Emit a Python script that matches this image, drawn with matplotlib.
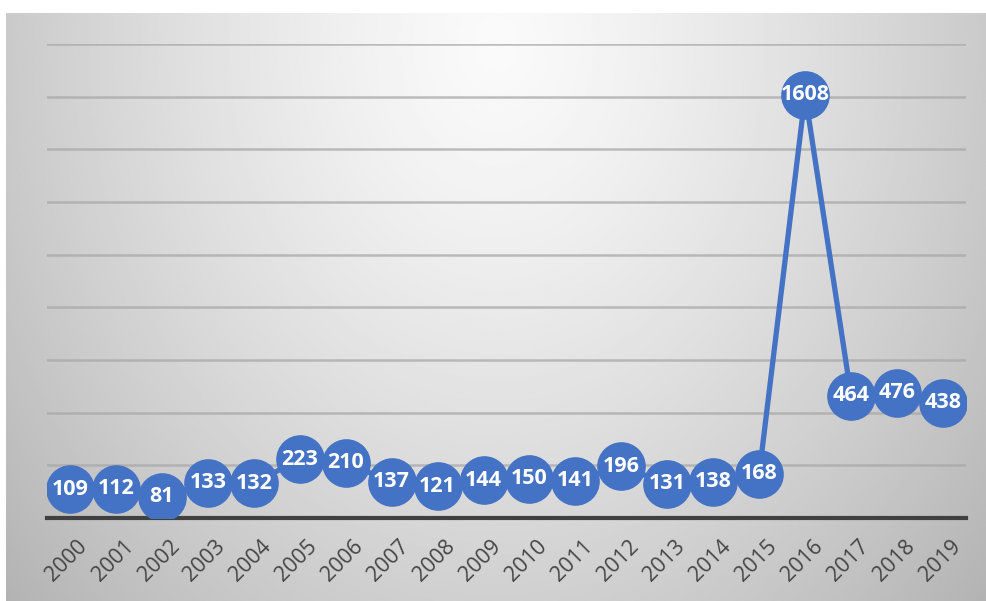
import matplotlib.pyplot as plt
import matplotlib.transforms as mtransforms
import numpy as np

years = ['2000', '2001', '2002', '2003', '2004', '2005', '2006', '2007', '2008', '2009',
         '2010', '2011', '2012', '2013', '2014', '2015', '2016', '2017', '2018', '2019']
counts = [109, 112, 81, 133, 132, 223, 210, 137, 121, 144,
          150, 141, 196, 131, 138, 168, 1608, 464, 476, 438]

blue = '#4472C4'

fig = plt.figure(figsize=(9.87, 6.01), dpi=100)

# grey panel with a soft radial gradient behind the chart
bg = fig.add_axes([6 / 987, 0, 1 - 6 / 987, 1 - 13 / 601])
bg.set_axis_off()
gx, gy = np.meshgrid(np.linspace(-1, 1, 400), np.linspace(0, 1, 300))
r = np.sqrt((gx / 1.05) ** 2 + ((gy - 0.05) / 1.1) ** 2)
shade = np.clip(0.98 - 0.2 * r ** 1.3, 0, 1)
bg.imshow(shade, cmap='gray', vmin=0, vmax=1, aspect='auto', origin='upper',
          extent=[0, 1, 0, 1], interpolation='bilinear')

ax = fig.add_axes([47 / 987, (601 - 518) / 601, (966 - 47) / 987, (518 - 44) / 601])
ax.patch.set_alpha(0)

x = np.arange(len(years))
ax.plot(x, counts, color=blue, linewidth=3.8, marker='o', markersize=34,
        markerfacecolor=blue, markeredgecolor=blue, zorder=3)
for xi, v in zip(x, counts):
    ax.text(xi, v, str(v), ha='center', va='center', color='white',
            fontsize=15.5, fontweight='bold', family='Open Sans', zorder=4)

ax.set_xlim(-0.5, len(years) - 0.5)
ax.set_ylim(0, 1800)
ax.set_yticks(np.arange(200, 1801, 200))
ax.yaxis.grid(True, color='#a8a8a8', linewidth=1.8, alpha=0.75)
ax.set_axisbelow(True)
ax.tick_params(axis='y', left=False, labelleft=False)
ax.axhline(0, color='#404040', linewidth=3, zorder=2, clip_on=False)

ax.set_xticks(x)
ax.set_xticklabels(years, rotation=45, ha='right', rotation_mode='anchor',
                   fontsize=15.5, color='#454545', family='Open Sans')
ax.tick_params(axis='x', length=0, pad=13)
shift = mtransforms.ScaledTranslation(7 / 100, 0, fig.dpi_scale_trans)
for lbl in ax.get_xticklabels():
    lbl.set_transform(lbl.get_transform() + shift)
for s in ax.spines.values():
    s.set_visible(False)

fig.savefig('out.png', dpi=100)
